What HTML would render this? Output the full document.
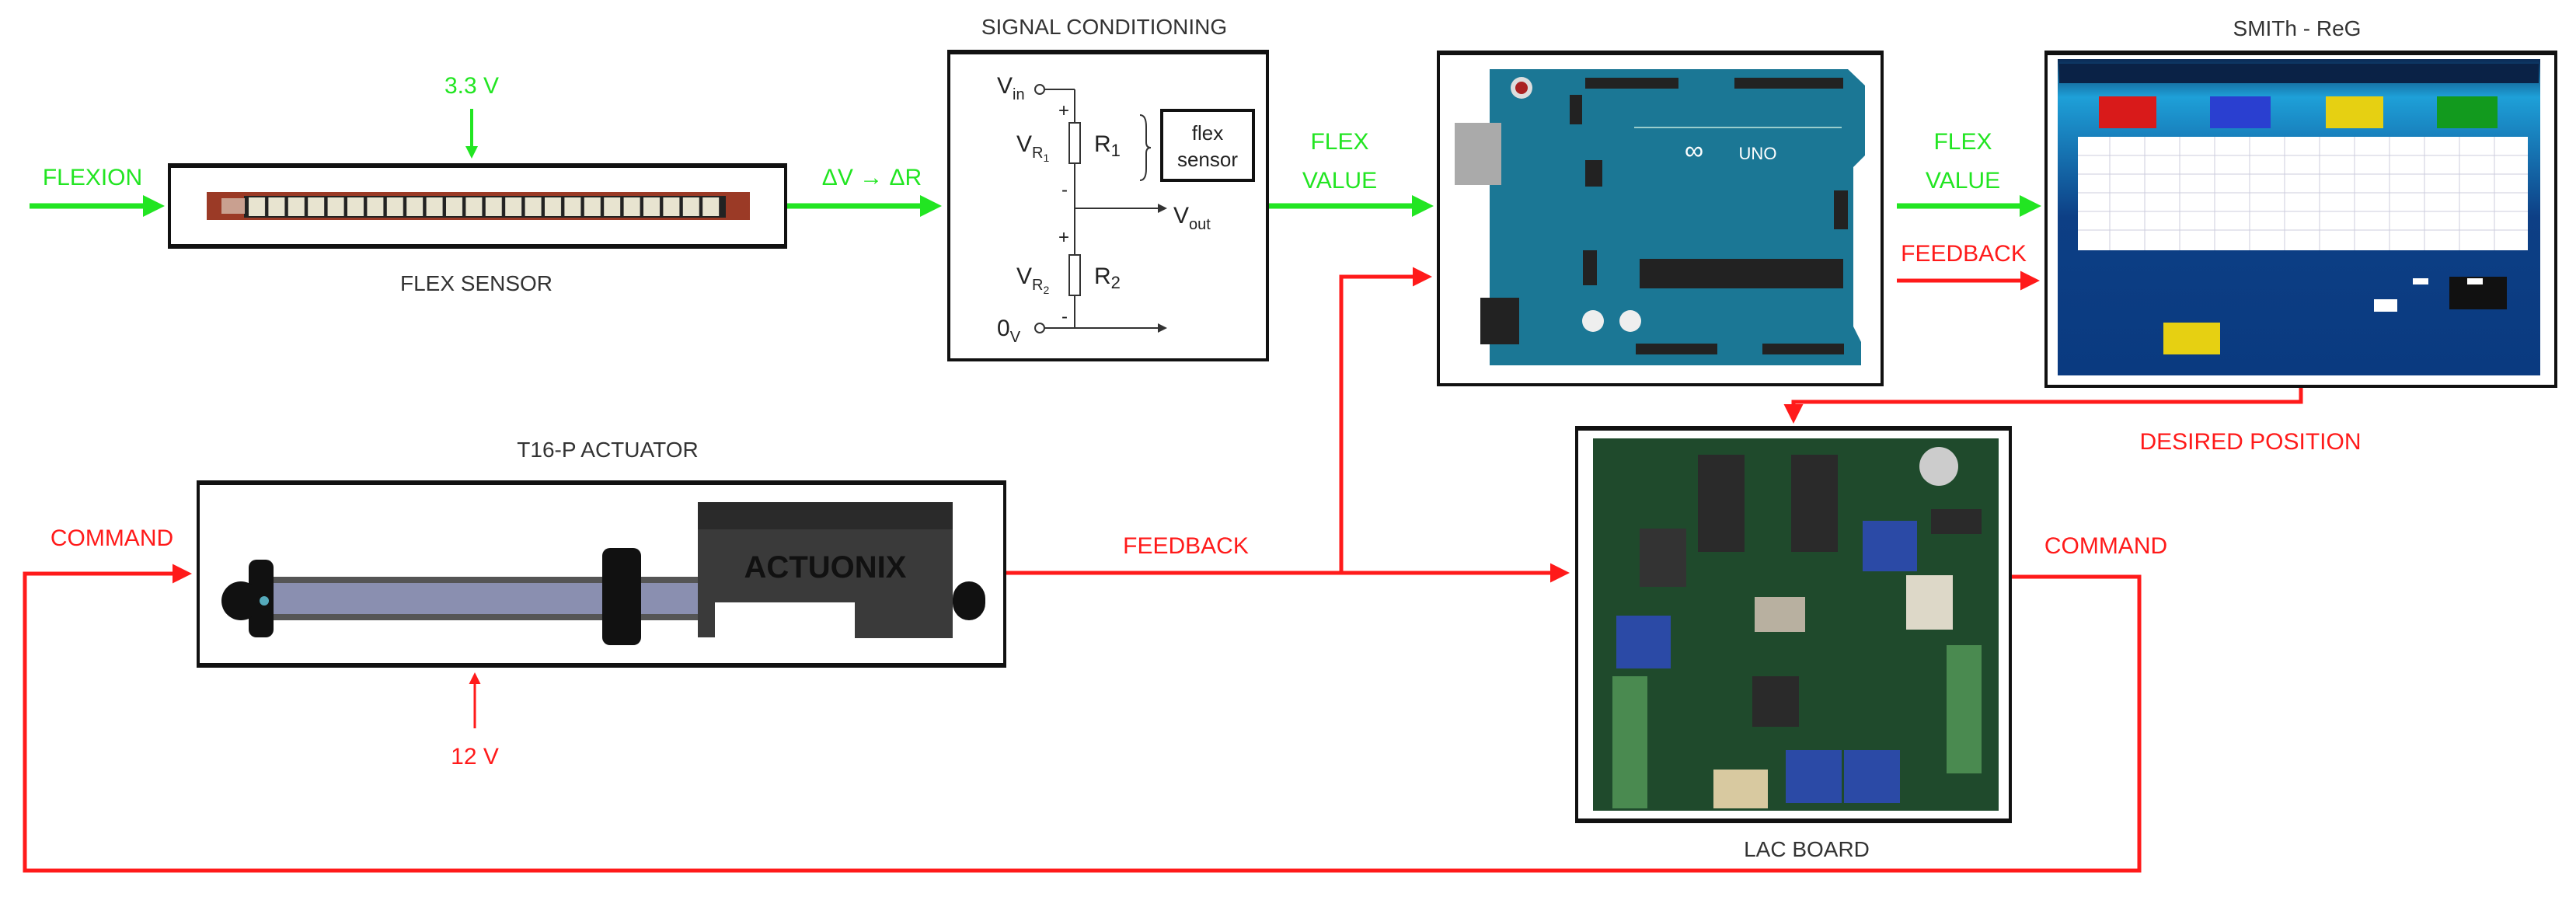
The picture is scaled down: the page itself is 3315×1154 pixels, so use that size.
<!DOCTYPE html>
<html><head><meta charset="utf-8"><style>
html,body{margin:0;padding:0;background:#fff}
svg{display:block}
text{font-family:"Liberation Sans",sans-serif}
</style></head><body>
<svg width="3315" height="1154" viewBox="0 0 3315 1154" xmlns="http://www.w3.org/2000/svg">
<defs>
<marker id="ag" markerWidth="4" markerHeight="4" refX="3" refY="2" orient="auto" markerUnits="strokeWidth"><path d="M0,0 L4,2 L0,4 z" fill="#22e522"/></marker>
<marker id="ar" markerWidth="5" markerHeight="5" refX="4" refY="2.5" orient="auto" markerUnits="strokeWidth"><path d="M0,0 L5,2.5 L0,5 z" fill="#ff1a1a"/></marker>
<marker id="ak" markerWidth="6" markerHeight="6" refX="5" refY="3" orient="auto" markerUnits="strokeWidth"><path d="M0,0 L6,3 L0,6 z" fill="#333"/></marker>
<linearGradient id="scr" x1="0" y1="0" x2="0" y2="1"><stop offset="0" stop-color="#0b2a55"/><stop offset="0.12" stop-color="#1ea0d8"/><stop offset="0.5" stop-color="#0d3f85"/><stop offset="1" stop-color="#0a3a80"/></linearGradient>
<pattern id="cellp" x="318" y="0" width="25.4" height="40" patternUnits="userSpaceOnUse"><rect x="2" y="0" width="21" height="40" fill="#e8e4d0"/></pattern>
</defs>

<g stroke="#22e522" stroke-width="7" fill="none">
<line x1="38" y1="265" x2="205" y2="265" marker-end="url(#ag)"/>
<line x1="1012" y1="265" x2="1205" y2="265" marker-end="url(#ag)"/>
<line x1="1632" y1="265" x2="1838" y2="265" marker-end="url(#ag)"/>
<line x1="2441" y1="265" x2="2620" y2="265" marker-end="url(#ag)"/>
<line x1="607" y1="140" x2="607" y2="200" stroke-width="4" marker-end="url(#ag)"/>
</g>
<g fill="#22e522" font-size="30" text-anchor="middle">
<text x="119" y="238">FLEXION</text>
<text x="607" y="120">3.3 V</text>
<text x="1122" y="238">ΔV → ΔR</text>
<text x="1724" y="192">FLEX</text>
<text x="1724" y="242">VALUE</text>
<text x="2526" y="192">FLEX</text>
<text x="2526" y="242">VALUE</text>
</g>

<g stroke="#ff1a1a" stroke-width="5" fill="none">
<line x1="2441" y1="361" x2="2620" y2="361" marker-end="url(#ar)"/>
<polyline points="1726,737 1726,356 1838,356" marker-end="url(#ar)"/>
<line x1="1294" y1="737" x2="2015" y2="737" marker-end="url(#ar)"/>
<polyline points="2961,498 2961,517 2308,517 2308,540" marker-end="url(#ar)"/>
<polyline points="2588,742 2753,742 2753,1120 32,1120 32,738 242,738" marker-end="url(#ar)"/>
<line x1="611" y1="937" x2="611" y2="868" stroke-width="3" marker-end="url(#ar)"/>
</g>
<g fill="#ff1a1a" font-size="30" text-anchor="middle">
<text x="2527" y="336">FEEDBACK</text>
<text x="1526" y="712">FEEDBACK</text>
<text x="144" y="702">COMMAND</text>
<text x="2710" y="712">COMMAND</text>
<text x="2896" y="578">DESIRED POSITION</text>
<text x="611" y="983">12 V</text>
</g>

<g fill="#333" font-size="28" text-anchor="middle">
<text x="1421" y="44">SIGNAL CONDITIONING</text>
<text x="2956" y="46">SMITh - ReG</text>
<text x="613" y="374">FLEX SENSOR</text>
<text x="782" y="588">T16-P ACTUATOR</text>
<text x="2325" y="1102">LAC BOARD</text>
</g>

<rect x="218" y="212" width="793" height="106" fill="#fff" stroke="#111" stroke-width="4"/>
<line x1="218" y1="213" x2="1011" y2="213" stroke="#111" stroke-width="6"/>
<line x1="218" y1="317" x2="1011" y2="317" stroke="#111" stroke-width="6"/>
<rect x="266" y="247" width="699" height="36" fill="#9b3a26"/>
<rect x="314" y="252" width="620" height="28" fill="#222"/>
<rect x="318" y="254" width="610" height="24" fill="url(#cellp)"/>
<rect x="285" y="255" width="30" height="20" fill="#c9a090"/>

<rect x="1221" y="66" width="410" height="397" fill="#fff" stroke="#111" stroke-width="4"/>
<line x1="1221" y1="67" x2="1631" y2="67" stroke="#111" stroke-width="6"/>
<g stroke="#333" stroke-width="2" fill="none">
<circle cx="1338" cy="115" r="6"/>
<line x1="1344" y1="115" x2="1383" y2="115"/>
<line x1="1383" y1="115" x2="1383" y2="158"/>
<rect x="1376" y="158" width="14" height="52" fill="#fff"/>
<line x1="1383" y1="210" x2="1383" y2="328"/>
<rect x="1376" y="328" width="14" height="52" fill="#fff"/>
<line x1="1383" y1="380" x2="1383" y2="422"/>
<line x1="1383" y1="268" x2="1500" y2="268" marker-end="url(#ak)"/>
<circle cx="1338" cy="422" r="6"/>
<line x1="1344" y1="422" x2="1500" y2="422" marker-end="url(#ak)"/>
<path d="M1467,148 q8,0 8,15 v20 q0,7 6,7 q-6,0 -6,7 v20 q0,15 -8,15"/>
</g>
<rect x="1495" y="142" width="118" height="90" fill="#fff" stroke="#111" stroke-width="4"/>
<g font-family="Liberation Serif,serif" fill="#222">
<text x="1554" y="180" font-size="26" text-anchor="middle">flex</text>
<text x="1554" y="214" font-size="26" text-anchor="middle">sensor</text>
<text x="1283" y="120" font-size="30">V<tspan font-size="20" dy="8">in</tspan></text>
<text x="1308" y="195" font-size="30">V<tspan font-size="20" dy="8">R</tspan><tspan font-size="14" dy="5">1</tspan></text>
<text x="1408" y="195" font-size="30">R<tspan font-size="22" dy="6">1</tspan></text>
<text x="1308" y="365" font-size="30">V<tspan font-size="20" dy="8">R</tspan><tspan font-size="14" dy="5">2</tspan></text>
<text x="1408" y="365" font-size="30">R<tspan font-size="22" dy="6">2</tspan></text>
<text x="1510" y="287" font-size="30">V<tspan font-size="20" dy="8">out</tspan></text>
<text x="1283" y="432" font-size="30">0<tspan font-size="20" dy="8">V</tspan></text>
<text x="1362" y="150" font-size="24">+</text>
<text x="1362" y="313" font-size="24">+</text>
<text x="1366" y="252" font-size="24">-</text>
<text x="1366" y="415" font-size="24">-</text>
</g>

<rect x="1851" y="67" width="571" height="428" fill="#fff" stroke="#111" stroke-width="4"/>
<line x1="1851" y1="68" x2="2422" y2="68" stroke="#111" stroke-width="6"/>
<path d="M1917,89 H2378 L2400,110 V200 L2385,215 V420 L2395,440 V470 H1917 Z" fill="#1b7795"/>
<rect x="1872" y="158" width="60" height="80" fill="#aaa"/>
<rect x="1905" y="383" width="50" height="60" fill="#222"/>
<rect x="2040" y="100" width="120" height="14" fill="#222"/>
<rect x="2232" y="100" width="140" height="14" fill="#222"/>
<rect x="2110" y="333" width="262" height="38" fill="#222"/>
<rect x="2105" y="442" width="105" height="14" fill="#222"/>
<rect x="2268" y="442" width="105" height="14" fill="#222"/>
<rect x="2040" y="206" width="22" height="34" fill="#222"/>
<rect x="2037" y="322" width="18" height="45" fill="#222"/>
<rect x="2360" y="245" width="18" height="50" fill="#222"/>
<rect x="2020" y="122" width="16" height="38" fill="#222"/>
<line x1="2103" y1="164" x2="2370" y2="164" stroke="#9cc" stroke-width="2"/>
<circle cx="1958" cy="113" r="14" fill="#ddd"/><circle cx="1958" cy="113" r="8" fill="#a22"/>
<circle cx="2050" cy="413" r="14" fill="#eee"/><circle cx="2098" cy="413" r="14" fill="#eee"/>
<text x="2180" y="205" fill="#fff" font-size="34" text-anchor="middle">∞</text>
<text x="2262" y="205" fill="#fff" font-size="22" text-anchor="middle">UNO</text>

<rect x="2633" y="67" width="656" height="430" fill="#fff" stroke="#111" stroke-width="4"/>
<line x1="2633" y1="68" x2="3289" y2="68" stroke="#111" stroke-width="6"/>
<rect x="2648" y="76" width="621" height="407" fill="url(#scr)"/>
<rect x="2650" y="82" width="617" height="25" fill="#0a2246"/>
<rect x="2701" y="124" width="74" height="41" fill="#d91a1a"/>
<rect x="2844" y="124" width="78" height="41" fill="#2a3fd0"/>
<rect x="2993" y="124" width="74" height="41" fill="#e6d012"/>
<rect x="3136" y="124" width="78" height="41" fill="#129a1e"/>
<rect x="2674" y="176" width="579" height="146" fill="#fff"/>
<g stroke="#ccd" stroke-width="1">
<line x1="2674" y1="200" x2="3253" y2="200"/><line x1="2674" y1="224" x2="3253" y2="224"/><line x1="2674" y1="248" x2="3253" y2="248"/><line x1="2674" y1="272" x2="3253" y2="272"/><line x1="2674" y1="296" x2="3253" y2="296"/>
<line x1="2715" y1="176" x2="2715" y2="322"/><line x1="2760" y1="176" x2="2760" y2="322"/><line x1="2805" y1="176" x2="2805" y2="322"/><line x1="2850" y1="176" x2="2850" y2="322"/><line x1="2895" y1="176" x2="2895" y2="322"/><line x1="2940" y1="176" x2="2940" y2="322"/><line x1="2985" y1="176" x2="2985" y2="322"/><line x1="3030" y1="176" x2="3030" y2="322"/><line x1="3075" y1="176" x2="3075" y2="322"/><line x1="3120" y1="176" x2="3120" y2="322"/><line x1="3165" y1="176" x2="3165" y2="322"/><line x1="3210" y1="176" x2="3210" y2="322"/>
</g>
<rect x="2784" y="415" width="73" height="41" fill="#e6d012"/>
<rect x="3152" y="356" width="74" height="42" fill="#111"/>
<rect x="3055" y="385" width="30" height="16" fill="#fff"/>
<rect x="3105" y="358" width="20" height="8" fill="#fff"/><rect x="3175" y="358" width="20" height="8" fill="#fff"/>

<rect x="255" y="620" width="1038" height="237" fill="#fff" stroke="#111" stroke-width="4"/>
<line x1="255" y1="621" x2="1293" y2="621" stroke="#111" stroke-width="6"/>
<line x1="255" y1="856" x2="1293" y2="856" stroke="#111" stroke-width="6"/>
<rect x="345" y="742" width="560" height="56" fill="#8a8fb0"/>
<rect x="345" y="742" width="560" height="8" fill="#555"/>
<rect x="345" y="790" width="560" height="8" fill="#555"/>
<rect x="320" y="720" width="32" height="100" rx="10" fill="#111"/>
<rect x="285" y="748" width="50" height="50" rx="25" fill="#111"/>
<circle cx="340" cy="773" r="6" fill="#5ab"/>
<rect x="775" y="705" width="50" height="125" rx="10" fill="#111"/>
<path d="M898,646 H1226 V821 H1100 V775 H920 V820 H898 Z" fill="#3a3a3a"/>
<rect x="898" y="646" width="328" height="35" fill="#2a2a2a"/>
<rect x="1226" y="748" width="42" height="50" rx="22" fill="#111"/>
<text x="1062" y="743" fill="#111" font-size="40" font-weight="bold" text-anchor="middle">ACTUONIX</text>

<rect x="2029" y="550" width="558" height="507" fill="#fff" stroke="#111" stroke-width="4"/>
<line x1="2029" y1="551" x2="2587" y2="551" stroke="#111" stroke-width="6"/>
<line x1="2029" y1="1056" x2="2587" y2="1056" stroke="#111" stroke-width="6"/>
<rect x="2050" y="564" width="522" height="479" fill="#1f4a2c"/>
<g fill="#2a2a2a">
<rect x="2185" y="585" width="60" height="125"/><rect x="2305" y="585" width="60" height="125"/>
<rect x="2255" y="870" width="60" height="65"/><rect x="2485" y="655" width="65" height="32"/>
</g>
<g fill="#2b4aa6">
<rect x="2397" y="670" width="70" height="65"/><rect x="2080" y="792" width="70" height="68"/>
<rect x="2298" y="965" width="72" height="68"/><rect x="2373" y="965" width="72" height="68"/>
</g>
<g fill="#4a8a50">
<rect x="2075" y="870" width="45" height="170"/><rect x="2505" y="830" width="45" height="165"/>
</g>
<rect x="2258" y="768" width="65" height="45" fill="#b8b0a0"/>
<rect x="2453" y="740" width="60" height="70" fill="#ddd8c8"/>
<rect x="2205" y="990" width="70" height="50" fill="#d8c9a0"/>
<circle cx="2495" cy="600" r="25" fill="#ccc"/>
<rect x="2110" y="680" width="60" height="75" fill="#333"/>
</svg>
</body></html>
